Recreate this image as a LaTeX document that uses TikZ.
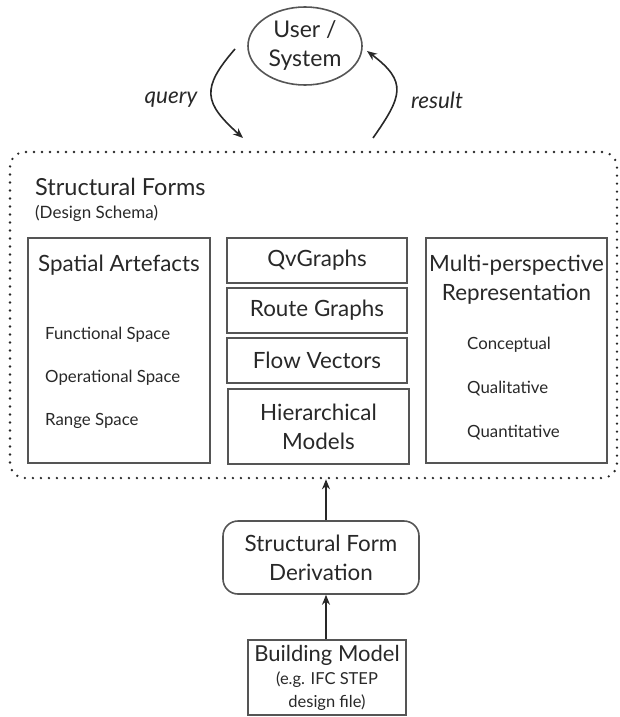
\documentclass[tikz,border=0pt]{standalone}
\usepackage{fontspec}
\setmainfont{Lato}
\usepackage{tikz}
\usetikzlibrary{positioning,arrows.meta,shapes.geometric}
\definecolor{inkcolor}{RGB}{40,40,40}
\definecolor{linecolor}{RGB}{85,85,85}
\tikzset{
  plain box/.style={
    rectangle,
    draw=linecolor,
    line width=1.6pt,
    inner sep=0pt,
    text=inkcolor,
    align=center,
    font=\fontsize{22.4}{29}\selectfont
  },
  round box/.style={
    plain box,
    rounded corners=15pt
  },
  box title/.style={
    text=inkcolor,
    align=center,
    inner sep=0pt,
    font=\fontsize{22.4}{29}\selectfont
  },
  item text/.style={
    anchor=west,
    text=inkcolor,
    inner sep=0pt,
    font=\fontsize{16.8}{19}\selectfont
  },
  flow label/.style={
    text=inkcolor,
    inner sep=0pt,
    font=\fontsize{22.5}{24}\selectfont\itshape
  },
  flow arrow/.style={
    -{Stealth[length=10pt,width=8pt]},
    draw=inkcolor,
    line width=1.6pt
  }
}

\begin{document}
\begin{tikzpicture}[x=1pt,y=-1pt]
  \useasboundingbox (0,0) rectangle (620,717);

  % User / System
  \node[ellipse, draw=linecolor, line width=1.6pt, text=inkcolor, align=center,
        minimum width=114pt, minimum height=78pt, inner sep=0pt,
        font=\fontsize{23}{29}\selectfont] (user) at (305,46) {User /\\System};

  % Structural forms (dotted frame)
  \node[draw=inkcolor, line width=2.6pt, line cap=round, dash pattern=on 0pt off 8pt,
        rounded corners=15pt, minimum width=607pt, minimum height=326pt,
        inner sep=0pt] (forms) at (313.5,315) {};
  \node[anchor=west, text=inkcolor, inner sep=0pt,
        font=\fontsize{23.5}{26}\selectfont] (formstitle) at (35,187) {Structural Forms};
  \node[anchor=west, text=inkcolor, inner sep=0pt,
        font=\fontsize{17}{19}\selectfont] (schema) at (35,213) {(Design Schema)};

  % query / result
  \coordinate (qstart) at (235,49);
  \coordinate (qend) at (243,138);
  \coordinate (rstart) at (373,138);
  \coordinate (rend) at (367,51);
  \draw[flow arrow] (qstart) to[out=229, in=138, looseness=1.5] (qend);
  \draw[flow arrow] (rstart) to[out=55, in=-37, looseness=1.5] (rend);
  \node[flow label] (query) at (171,100) {query};
  \node[flow label] (result) at (437,100) {result};

  % Spatial artefacts
  \node[plain box, minimum width=182pt, minimum height=225pt] (spatial) at (119,350.5) {};
  \node[box title, below=18pt of spatial.north] (spatialtitle) {Spatial Artefacts};
  \node[item text] (fspace) at (45,335) {Functional Space};
  \node[item text] (ospace) at (45,378) {Operational Space};
  \node[item text] (rspace) at (45,421) {Range Space};

  % Middle column
  \node[plain box, minimum width=180pt, minimum height=45pt] (qvgraphs) at (317,260.5) {QvGraphs};
  \node[plain box, minimum width=180pt, minimum height=45pt] (routes) at (317,310.5) {Route Graphs};
  \node[plain box, minimum width=180pt, minimum height=45pt] (flows) at (317,360.5) {Flow Vectors};
  \node[plain box, minimum width=181pt, minimum height=75pt] (hier) at (318.5,426.5) {Hierarchical\\Models};

  % Multi-perspective representation
  \node[plain box, minimum width=181pt, minimum height=225pt] (multi) at (516.5,350.5) {};
  \node[box title, below=18pt of multi.north] (multititle) {Multi-perspective\\Representation};
  \node[item text] (concept) at (467,345) {Conceptual};
  \node[item text] (quali) at (467,389) {Qualitative};
  \node[item text] (quanti) at (467,433) {Quantitative};

  % Derivation and building model
  \node[round box, minimum width=196pt, minimum height=73pt] (derive) at (321,557.5) {Structural Form\\Derivation};
  \node[plain box, minimum width=158pt, minimum height=75pt,
        font=\fontsize{22}{23}\selectfont] (building) at (327,677.5)
        {Building Model\\{\fontsize{16.5}{22}\selectfont(e.g. IFC STEP}\\{\fontsize{16.5}{22}\selectfont design file)}};

  \draw[flow arrow] (building.north -| 326,0) -- (derive.south -| 326,0);
  \draw[flow arrow] (derive.north -| 326,0) -- (forms.south -| 326,0);
\end{tikzpicture}
\end{document}
